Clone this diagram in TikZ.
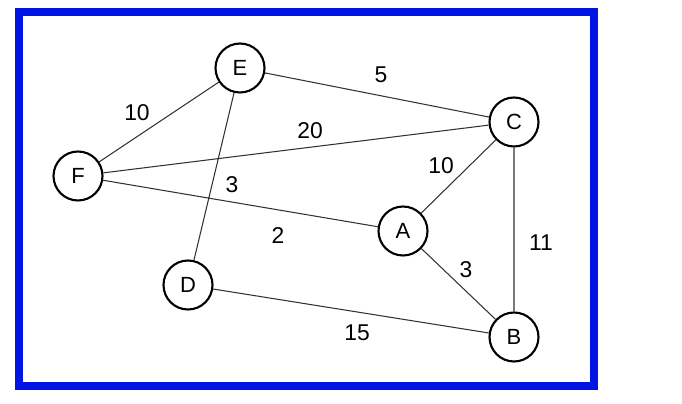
\documentclass[tikz,border=0pt]{standalone}
\usepackage{fontspec}
\setmainfont{Liberation Sans}
\definecolor{frameblue}{RGB}{0,20,230}
\begin{document}
\begin{tikzpicture}[x=0.02cm,y=-0.02cm,
  vert/.style={circle,draw,line width=1.2pt,minimum size=0.98cm,inner sep=0pt,font=\fontsize{12.5}{14}\selectfont},
  edge/.style={draw,gray!40!black,line width=0.6pt},
  wt/.style={font=\fontsize{13}{15}\selectfont}]
\useasboundingbox (0,0) rectangle (682,404);
\fill[white] (0,0) rectangle (682,404);
\draw[frameblue,line width=4.8pt] (19,12) rectangle (594,386);
\node[vert] (E) at (240,68) {E};
\node[vert] (C) at (514,122) {C};
\node[vert] (F) at (78,176) {F};
\node[vert] (A) at (403,231) {A};
\node[vert] (D) at (188,285) {D};
\node[vert] (B) at (514,337) {B};
\path[edge] (E)--(C) (F)--(E) (F)--(C) (A)--(C) (E)--(D) (F)--(A) (C)--(B) (A)--(B) (D)--(B);
\node[wt] (w1) at (381,75) {5};
\node[wt] (w2) at (137,113) {10};
\node[wt] (w3) at (310,131) {20};
\node[wt] (w4) at (441,166) {10};
\node[wt] (w5) at (232,185) {3};
\node[wt] (w6) at (278,236) {2};
\node[wt] (w7) at (541,243) {11};
\node[wt] (w8) at (466,270) {3};
\node[wt] (w9) at (357,333) {15};
\end{tikzpicture}
\end{document}
